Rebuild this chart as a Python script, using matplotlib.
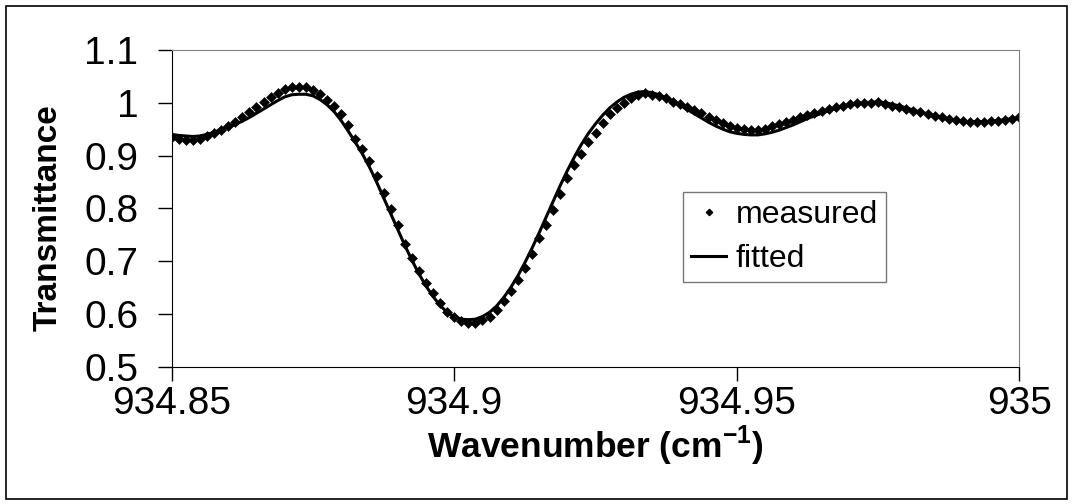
import matplotlib
matplotlib.use("Agg")
import matplotlib.pyplot as plt
import numpy as np
from matplotlib.lines import Line2D
from matplotlib.patches import Rectangle

plt.rcParams['font.family'] = ['Liberation Sans', 'DejaVu Sans']
plt.rcParams['mathtext.fontset'] = 'custom'
plt.rcParams['mathtext.rm'] = 'Liberation Sans'
plt.rcParams['mathtext.bf'] = 'Liberation Sans:bold'

# spectrum sampling (cm^-1)
wn_start = 934.85
wn_step = 0.00125

measured = [
    0.935, 0.931, 0.930, 0.930, 0.932, 0.937, 0.943, 0.949, 0.956, 0.964,
    0.973, 0.983, 0.992, 1.001, 1.011, 1.019, 1.025, 1.029, 1.030, 1.029,
    1.024, 1.017, 1.006, 0.994, 0.978, 0.957, 0.932, 0.913, 0.890, 0.862,
    0.829, 0.799, 0.768, 0.733, 0.705, 0.681, 0.658, 0.639, 0.620, 0.604,
    0.594, 0.586, 0.582, 0.582, 0.588, 0.595, 0.607, 0.624, 0.644, 0.664,
    0.686, 0.713, 0.743, 0.768, 0.797, 0.828, 0.857, 0.882, 0.903, 0.926,
    0.943, 0.962, 0.979, 0.990, 1.000, 1.009, 1.015, 1.018, 1.015, 1.012,
    1.008, 1.002, 0.998, 0.992, 0.986, 0.980, 0.973, 0.967, 0.961, 0.956,
    0.953, 0.950, 0.948, 0.948, 0.950, 0.955, 0.960, 0.963, 0.967, 0.972,
    0.977, 0.981, 0.985, 0.988, 0.992, 0.994, 0.997, 0.999, 1.000, 1.000,
    1.001, 0.998, 0.994, 0.991, 0.988, 0.985, 0.982, 0.979, 0.975, 0.972,
    0.970, 0.967, 0.965, 0.964, 0.964, 0.964, 0.965, 0.966, 0.967, 0.970,
    0.972,
]

fitted = [
    0.940, 0.938, 0.937, 0.936, 0.937, 0.940, 0.944, 0.949, 0.954, 0.959,
    0.965, 0.972, 0.980, 0.988, 0.996, 1.004, 1.011, 1.015, 1.016, 1.016,
    1.013, 1.006, 0.996, 0.983, 0.966, 0.946, 0.925, 0.903, 0.878, 0.850,
    0.820, 0.790, 0.760, 0.730, 0.702, 0.676, 0.653, 0.633, 0.616, 0.603,
    0.595, 0.590, 0.589, 0.590, 0.595, 0.603, 0.615, 0.631, 0.650, 0.672,
    0.697, 0.724, 0.753, 0.783, 0.813, 0.843, 0.871, 0.897, 0.921, 0.942,
    0.960, 0.976, 0.990, 1.001, 1.010, 1.016, 1.020, 1.021, 1.019, 1.015,
    1.009, 1.002, 0.995, 0.987, 0.979, 0.971, 0.963, 0.956, 0.950, 0.945,
    0.942, 0.940, 0.939, 0.939, 0.941, 0.944, 0.948, 0.953, 0.958, 0.964,
    0.970, 0.975, 0.980, 0.985, 0.989, 0.993, 0.996, 0.998, 1.000, 1.001,
    1.001, 1.000, 0.997, 0.994, 0.990, 0.986, 0.982, 0.979, 0.975, 0.972,
    0.969, 0.967, 0.965, 0.964, 0.964, 0.964, 0.965, 0.966, 0.968, 0.970,
    0.972,
]

x_ticks = [934.85, 934.9, 934.95, 935]
x_ticklabels = ['934.85', '934.9', '934.95', '935']
y_ticks = [0.5, 0.6, 0.7, 0.8, 0.9, 1.0, 1.1]
y_ticklabels = ['0.5', '0.6', '0.7', '0.8', '0.9', '1', '1.1']

wn = wn_start + wn_step * np.arange(len(measured))

fig = plt.figure(figsize=(10.73, 5.04), dpi=100)
ax = fig.add_axes([0.160, 0.2724, 0.790, 0.6286])

ax.plot(wn, measured, linestyle='none', marker='D', markersize=4.8,
        color='black', markeredgewidth=0.4)
ax.plot(wn, fitted, color='black', linewidth=2.2)

ax.set_xlim(934.85, 935)
ax.set_ylim(0.5, 1.1)
ax.set_xticks(x_ticks)
ax.set_xticklabels(x_ticklabels)
ax.set_yticks(y_ticks)
ax.set_yticklabels(y_ticklabels)
ax.tick_params(axis='both', direction='out', labelsize=28, colors='black',
               width=1)
ax.tick_params(axis='y', length=10, pad=14)
ax.tick_params(axis='x', length=10, pad=4)

for side in ['top', 'right']:
    ax.spines[side].set_color('#808080')
ax.spines['left'].set_color('black')
ax.spines['bottom'].set_color('black')

ax.set_ylabel('Transmittance', fontsize=24, fontweight='bold')
ax.yaxis.set_label_coords(-0.127, 0.47)
ax.set_xlabel(r'Wavenumber (cm$^{\mathbf{-1}}$)', fontsize=25.5,
              fontweight='bold', labelpad=1)

handles = [
    Line2D([], [], linestyle='none', marker='D', markersize=3.2, color='black'),
    Line2D([], [], color='black', linewidth=2.2),
]
leg = ax.legend(handles, ['measured', 'fitted'], loc='upper left',
                bbox_to_anchor=(0.603, 0.551), fontsize=23, frameon=True,
                fancybox=False, edgecolor='#555555', handlelength=1.1,
                handletextpad=0.3, borderpad=0.26, labelspacing=0.42,
                borderaxespad=0)
leg.get_frame().set_linewidth(1)

# outer chart border
fig.patches.append(Rectangle((6 / 1073, 5 / 504), 1061 / 1073, 493 / 504,
                             transform=fig.transFigure, fill=False,
                             edgecolor='black', linewidth=1.2))

fig.savefig('out.png', dpi=100)
